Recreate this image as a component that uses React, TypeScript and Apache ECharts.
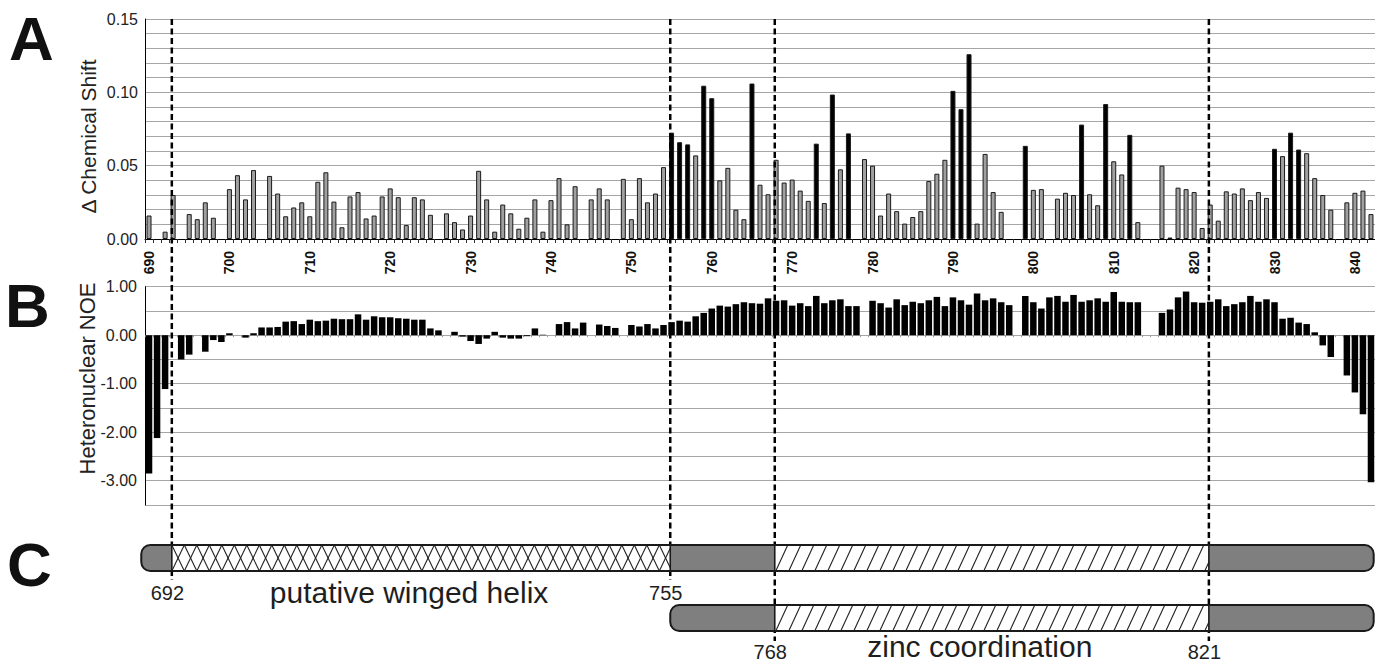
import React, { useEffect, useRef } from "react";
import * as echarts from "echarts";

// ---------------- data ----------------
const FIRST_RESIDUE = 690;
const LAST_RESIDUE = 842;
const residues: string[] = [];
for (let r = FIRST_RESIDUE; r <= LAST_RESIDUE; r++) residues.push(String(r));

// Panel A: chemical shift change per residue (null = no data), 690..842
const shiftValues: (number | null)[] = [
  0.016, null, 0.005, 0.03, null, 0.017, 0.0135, 0.025, 0.0145, null,
  0.034, 0.0435, 0.027, 0.047, null, 0.043, 0.031, 0.0155, 0.0215, 0.025,
  0.0155, 0.039, 0.0455, 0.0255, 0.008, 0.029, 0.032, 0.014, 0.016, 0.029,
  0.0345, 0.0285, 0.0095, 0.0285, 0.027, 0.0165, null, 0.0175, 0.0115, 0.0065,
  0.016, 0.0465, 0.027, 0.005, 0.0235, 0.0175, 0.007, 0.0145, 0.027, 0.005,
  0.0265, 0.0415, 0.01, 0.036, null, 0.027, 0.0345, 0.027, null, 0.041,
  0.0135, 0.0415, 0.025, 0.031, 0.049, 0.0725, 0.066, 0.0645, 0.057, 0.1045,
  0.096, 0.04, 0.0485, 0.02, 0.0135, 0.106, 0.037, 0.0305, 0.054, 0.0385,
  0.0405, 0.033, 0.026, 0.065, 0.0245, 0.0985, 0.0475, 0.072, null, 0.0545,
  0.05, 0.016, 0.031, 0.019, 0.0105, 0.015, 0.019, 0.0395, 0.0445, 0.054,
  0.101, 0.0885, 0.126, 0.0105, 0.058, 0.032, 0.0185, null, null, 0.0635,
  0.0335, 0.034, null, 0.0275, 0.0315, 0.03, 0.078, 0.0305, 0.023, 0.092,
  0.053, 0.044, 0.071, 0.0115, null, null, 0.05, 0.001, 0.035, 0.034,
  0.032, 0.0075, 0.0235, 0.0125, 0.0325, 0.031, 0.0345, 0.0265, 0.032, 0.028,
  0.0615, 0.0565, 0.0725, 0.061, 0.0585, 0.0415, 0.03, 0.02, null, 0.025,
  0.0315, 0.033, 0.017,
];
// residues whose shift bar is drawn black
const significantResidues: number[] = [
  755, 756, 757, 759, 760, 765, 773, 775, 777, 790, 791, 792, 799, 806, 809, 812, 830, 832, 833,
];

// Panel B: heteronuclear NOE per residue, 690..842
const noeValues: (number | null)[] = [
  -2.85, -2.12, -1.11, null, -0.5, -0.4, null, -0.34, -0.1, -0.14,
  0.04, null, -0.05, 0.04, 0.16, 0.16, 0.17, 0.28, 0.29, 0.23,
  0.32, 0.29, 0.3, 0.34, 0.33, 0.33, 0.43, 0.32, 0.39, 0.37,
  0.37, 0.35, 0.34, 0.32, 0.32, 0.14, 0.1, null, 0.07, -0.03,
  -0.12, -0.18, -0.07, 0.07, -0.05, -0.07, -0.07, -0.02, 0.14, 0.01,
  null, 0.23, 0.27, 0.14, 0.26, null, 0.22, 0.19, 0.15, null,
  0.21, 0.18, 0.23, 0.14, 0.21, 0.27, 0.3, 0.28, 0.39, 0.46,
  0.55, 0.61, 0.59, 0.64, 0.68, 0.66, 0.65, 0.76, 0.71, 0.72,
  0.61, 0.66, 0.6, 0.81, 0.66, 0.72, 0.74, 0.6, 0.6, null,
  0.71, 0.66, 0.57, 0.74, 0.62, 0.69, 0.66, 0.72, 0.79, 0.6,
  0.78, 0.72, 0.63, 0.86, 0.72, 0.76, 0.68, 0.62, null, 0.81,
  0.68, 0.55, 0.78, 0.81, 0.69, 0.83, 0.69, 0.72, 0.76, 0.69,
  0.89, 0.69, 0.68, 0.68, null, null, 0.46, 0.53, 0.78, 0.9,
  0.68, 0.67, 0.69, 0.74, 0.6, 0.64, 0.68, 0.81, 0.69, 0.74,
  0.68, 0.34, 0.36, 0.26, 0.23, 0.06, -0.21, -0.45, null, -0.83,
  -1.18, -1.63, -3.03,
];

// Panel C: domains
const domainNames = ["putative winged helix", "zinc coordination"];
const domainStartLabels = ["692", "768"];
const domainEndLabels = ["755", "821"];
const domainEdges: [number, number][] = [
  [692.5, 754.5],
  [767.5, 821.5],
];
const row1Edges = [688.7, 692.5, 754.5, 767.5, 821.5, 842];
const row1Kinds = ["plain", "cross", "plain", "hatch", "plain"];
const row2Edges = [754.5, 767.5, 821.5, 842];
const row2Kinds = ["plain", "hatch", "plain"];

// ---------------- layout / style ----------------
const FONT = '"Liberation Sans", Arial, Helvetica, sans-serif';
const PLOT_LEFT = 145;
const PLOT_WIDTH = 1230.4;
const C_OFFSET = 2.7; // px shift of the domain drawing relative to bar slots
const LINE_TOP = 19;
const LINE_BOTTOMS = [580, 641];
const ROW_TOPS = [545, 605];
const ROW_H = 26;
const ROW_R = 9;
const NUM_Y = [593, 652];
const NAME_Y = [592.3, 646];
const NAME_DX = -12;

function hatch(x0: number, x1: number, y0: number, y1: number, pitch: number, slant: number, dir: number) {
  const out: any[] = [];
  for (let s = x0 - slant; s < x1; s += pitch) {
    const ax = s;
    const ay = dir === 1 ? y1 : y0;
    const by = dir === 1 ? y0 : y1;
    const t0 = Math.max(0, (x0 - ax) / slant);
    const t1 = Math.min(1, (x1 - ax) / slant);
    if (t1 <= t0) continue;
    out.push({
      type: "line",
      shape: {
        x1: ax + t0 * slant,
        y1: ay + t0 * (by - ay),
        x2: ax + t1 * slant,
        y2: ay + t1 * (by - ay),
      },
      style: { stroke: "#222", lineWidth: 1.1 },
    });
  }
  return out;
}

function renderPanelC(_params: any, api: any) {
  const X = (v: number) => api.coord([v, 0])[0] + C_OFFSET;
  const children: any[] = [];

  // dashed guide lines
  domainEdges.forEach((edges, d) => {
    edges.forEach((e) => {
      const x = X(e);
      children.push({
        type: "line",
        shape: { x1: x, y1: LINE_TOP, x2: x, y2: LINE_BOTTOMS[d] },
        style: { stroke: "#000", lineWidth: 2.5, lineDash: [6, 3.5] },
      });
    });
  });

  const rows = [
    { edges: row1Edges, kinds: row1Kinds },
    { edges: row2Edges, kinds: row2Kinds },
  ];
  rows.forEach((row, ri) => {
    const y0 = ROW_TOPS[ri];
    const y1 = y0 + ROW_H;
    const n = row.kinds.length;
    row.kinds.forEach((kind, si) => {
      const x0 = X(row.edges[si]);
      const x1 = X(row.edges[si + 1]);
      const r = [si === 0 ? ROW_R : 0, si === n - 1 ? ROW_R : 0, si === n - 1 ? ROW_R : 0, si === 0 ? ROW_R : 0];
      children.push({
        type: "rect",
        shape: { x: x0, y: y0, width: x1 - x0, height: ROW_H, r },
        style: { fill: kind === "plain" ? "#7f7f7f" : "#ffffff" },
      });
      if (kind === "cross") {
        children.push(...hatch(x0, x1, y0, y1, 12.5, 12.5, 1));
        children.push(...hatch(x0, x1, y0, y1, 12.5, 12.5, -1));
      } else if (kind === "hatch") {
        children.push(...hatch(x0, x1, y0, y1, 13, 12, 1));
      }
      if (si > 0) {
        children.push({
          type: "line",
          shape: { x1: x0, y1: y0, x2: x0, y2: y1 },
          style: { stroke: "#1a1a1a", lineWidth: 1.6 },
        });
      }
    });
    const xs = X(row.edges[0]);
    const xe = X(row.edges[row.edges.length - 1]);
    children.push({
      type: "rect",
      shape: { x: xs, y: y0, width: xe - xs, height: ROW_H, r: ROW_R },
      style: { fill: "none", stroke: "#1a1a1a", lineWidth: 2 },
    });
  });

  // labels
  domainNames.forEach((name, d) => {
    const [a, b] = domainEdges[d];
    const xa = X(a);
    const xb = X(b);
    const mk = (text: string, x: number, y: number, size: number) => ({
      type: "text",
      x,
      y,
      style: {
        text,
        fill: "#1e1e1e",
        font: `${size}px ${FONT}`,
        align: "center",
        verticalAlign: "middle",
        textAlign: "center",
        textVerticalAlign: "middle",
      },
    });
    children.push(mk(domainStartLabels[d], xa - 4.5, NUM_Y[d], 20));
    children.push(mk(domainEndLabels[d], xb - 4.5, NUM_Y[d], 20));
    children.push(mk(name, (xa + xb) / 2 + NAME_DX, NAME_Y[d], 30));
  });

  return { type: "group", children };
}

const fmtA = (v: number) => {
  const k = Math.round(v * 100);
  return k % 5 === 0 ? (k / 100).toFixed(2) : "";
};
const fmtB = (v: number) => {
  const r = Math.round(v);
  return Math.abs(v - r) < 1e-6 ? (r === 0 ? 0 : r).toFixed(2) : "";
};

export default function App() {
  const ref = useRef<HTMLDivElement>(null);
  useEffect(() => {
    document.body.style.margin = "0";
    document.body.style.overflow = "hidden";
    if (!ref.current) return;
    const chart = echarts.init(ref.current, undefined, { renderer: "svg" });
    const sig = new Set(significantResidues);
    const shiftData = shiftValues.map((v, i) =>
      v === null
        ? "-"
        : {
            value: v,
            itemStyle: { color: sig.has(FIRST_RESIDUE + i) ? "#000000" : "#a0a0a0" },
          }
    );
    const noeData = noeValues.map((v) => (v === null ? "-" : v));

    const letter = (t: string, x: number, y: number) => ({
      type: "text",
      x,
      y,
      style: {
        text: t,
        font: `bold 62px ${FONT}`,
        fill: "#111",
        align: "left",
        verticalAlign: "middle",
        textAlign: "left",
        textVerticalAlign: "middle",
      },
    });
    const title = (t: string, x: number, y: number, size: number) => ({
      type: "text",
      x,
      y,
      rotation: Math.PI / 2,
      style: {
        text: t,
        font: `${size}px ${FONT}`,
        fill: "#222",
        align: "center",
        verticalAlign: "middle",
        textAlign: "center",
        textVerticalAlign: "middle",
      },
    });

    const option: any = {
      animation: false,
      backgroundColor: "#ffffff",
      textStyle: { fontFamily: FONT },
      grid: [
        { left: PLOT_LEFT, top: 19, width: PLOT_WIDTH, height: 220 },
        { left: PLOT_LEFT, top: 286.7, width: PLOT_WIDTH, height: 218.3 },
        { left: PLOT_LEFT, top: 540, width: PLOT_WIDTH, height: 100 },
      ],
      xAxis: [
        {
          type: "category",
          gridIndex: 0,
          data: residues,
          boundaryGap: true,
          axisLine: { show: true, lineStyle: { color: "#000", width: 1 } },
          axisTick: { show: true, interval: 0, length: 4, lineStyle: { color: "#333" } },
          axisLabel: {
            interval: (_i: number, v: string) => Number(v) % 10 === 0,
            rotate: 90,
            margin: 12,
            fontSize: 14,
            fontWeight: "bold",
            color: "#111",
            fontFamily: FONT,
          },
          splitLine: { show: false },
        },
        {
          type: "category",
          gridIndex: 1,
          data: residues,
          boundaryGap: true,
          axisLine: { show: false },
          axisTick: { show: true, interval: 0, length: 2, lineStyle: { color: "#999" } },
          axisLabel: { show: false },
          splitLine: { show: false },
        },
        { type: "value", gridIndex: 2, min: 689.5, max: 842.5, show: false },
      ],
      yAxis: [
        {
          type: "value",
          gridIndex: 0,
          min: 0,
          max: 0.15,
          interval: 0.01,
          axisLine: { show: true, lineStyle: { color: "#000", width: 1 } },
          axisTick: { show: false },
          axisLabel: { formatter: fmtA, fontSize: 16, color: "#222", margin: 7, fontFamily: FONT },
          splitLine: { show: true, lineStyle: { color: "#a6a6a6", width: 1 } },
        },
        {
          type: "value",
          gridIndex: 1,
          min: -3.5,
          max: 1,
          interval: 0.5,
          axisLine: { show: true, onZero: false, lineStyle: { color: "#000", width: 1 } },
          axisTick: { show: false },
          axisLabel: { formatter: fmtB, fontSize: 16, color: "#222", margin: 8, fontFamily: FONT },
          splitLine: { show: true, lineStyle: { color: "#a6a6a6", width: 1 } },
        },
        { type: "value", gridIndex: 2, min: 0, max: 1, show: false },
      ],
      series: [
        {
          type: "bar",
          xAxisIndex: 0,
          yAxisIndex: 0,
          barWidth: 5,
          data: shiftData,
          itemStyle: { borderColor: "#1a1a1a", borderWidth: 1 },
        },
        {
          type: "bar",
          xAxisIndex: 1,
          yAxisIndex: 1,
          barWidth: 6.5,
          data: noeData,
          itemStyle: { color: "#000" },
        },
        {
          type: "custom",
          xAxisIndex: 2,
          yAxisIndex: 2,
          data: [[760, 0.5]],
          renderItem: renderPanelC,
          clip: false,
          z: 10,
          silent: true,
        },
      ],
      graphic: [
        letter("A", 9, 38.5),
        letter("B", 5, 305),
        letter("C", 7, 564),
        title("\u0394 Chemical Shift", 88, 136.5, 21),
        title("Heteronuclear NOE", 87, 378.5, 22),
      ],
    };
    chart.setOption(option);
    return () => chart.dispose();
  }, []);
  return <div ref={ref} style={{ width: 1375, height: 663 }} />;
}
